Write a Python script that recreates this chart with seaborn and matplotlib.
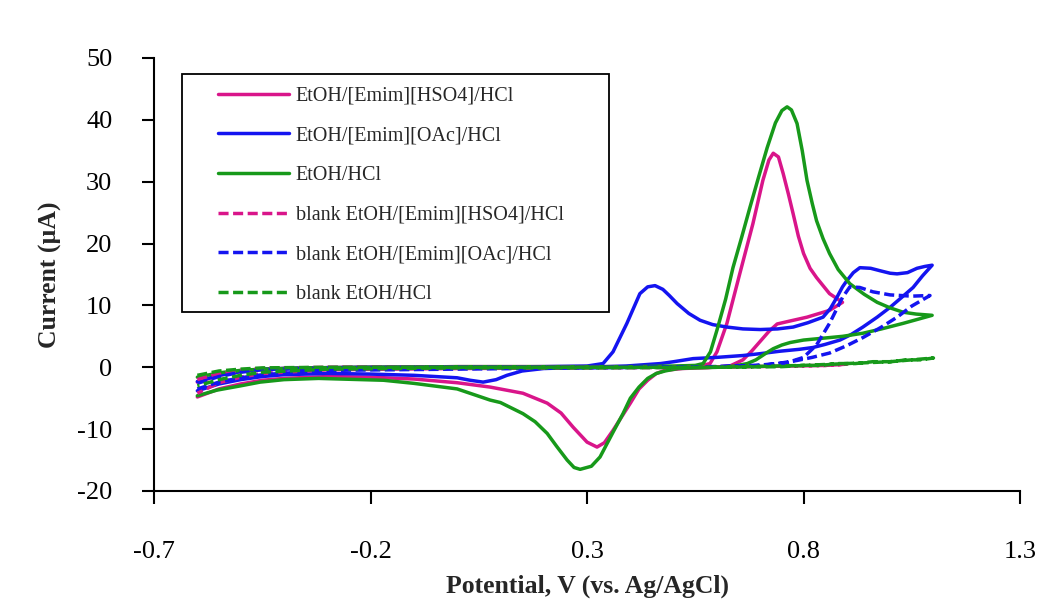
import numpy as np
import pandas as pd
import matplotlib
matplotlib.use("Agg")
import matplotlib.pyplot as plt
import seaborn as sns
from matplotlib.patches import Rectangle

# ---------------- data ----------------
# Potential (V vs Ag/AgCl) and current (uA); each loop = forward scan then reverse scan
HSO4_V = [-0.60, -0.55, -0.50, -0.45, -0.35, -0.20, 0.00, 0.20, 0.40, 0.50, 0.56, 0.584, 0.60, 0.623,
          0.653, 0.683, 0.706, 0.72, 0.73, 0.742, 0.753, 0.765, 0.776, 0.788, 0.80, 0.815, 0.83, 0.86, 0.89,
          0.86, 0.808, 0.77, 0.739, 0.72, 0.70, 0.68, 0.66, 0.63, 0.58, 0.52, 0.48, 0.46, 0.44, 0.42, 0.40,
          0.38, 0.36, 0.34, 0.323, 0.30, 0.268, 0.24, 0.208, 0.152, 0.076, 0.00, -0.10, -0.20, -0.30, -0.40,
          -0.45, -0.50, -0.55, -0.60]
HSO4_I = [-2.4, -1.3, -0.7, -0.3, -0.1, 0.0, 0.1, 0.1, 0.1, 0.1, 0.2, 0.6, 2.5, 7.1,
          15.2, 23.2, 30.2, 33.5, 34.6, 34.0, 31.3, 28.0, 24.8, 21.2, 18.4, 16.0, 14.5, 11.9, 10.5,
          9.2, 8.1, 7.5, 7.0, 5.8, 4.2, 2.6, 1.2, 0.2, -0.05, -0.2, -0.5, -1.0, -2.1, -3.5, -5.8,
          -8.0, -10.2, -12.2, -12.9, -12.1, -9.7, -7.4, -5.8, -4.2, -3.2, -2.5, -1.9, -1.6, -1.5, -1.8,
          -2.1, -2.7, -3.5, -4.8]

OAC_V = [-0.60, -0.55, -0.50, -0.45, -0.35, -0.20, 0.00, 0.20, 0.30, 0.337, 0.36, 0.392, 0.422, 0.44,
         0.457, 0.475, 0.49, 0.508, 0.535, 0.561, 0.59, 0.623, 0.66, 0.70, 0.74, 0.776, 0.81, 0.845,
         0.862, 0.877, 0.89, 0.90, 0.915, 0.93, 0.955, 0.977, 1.00, 1.016, 1.04, 1.062, 1.08, 1.097,
         1.075, 1.053, 1.025, 1.00, 0.97, 0.937, 0.91, 0.884, 0.85, 0.822, 0.79, 0.746, 0.70, 0.66,
         0.60, 0.545, 0.50, 0.47, 0.43, 0.39, 0.30, 0.20, 0.15, 0.115, 0.09, 0.06, 0.03, 0.00, -0.10,
         -0.20, -0.30, -0.40, -0.45, -0.50, -0.55, -0.60]
OAC_I = [-2.3, -1.3, -0.7, -0.3, -0.1, 0.0, 0.0, 0.1, 0.2, 0.6, 2.5, 7.1, 11.9, 13.0,
         13.2, 12.6, 11.6, 10.3, 8.7, 7.6, 6.9, 6.5, 6.2, 6.1, 6.2, 6.5, 7.2, 8.1,
         9.5, 11.3, 13.0, 14.0, 15.3, 16.1, 16.0, 15.6, 15.2, 15.1, 15.3, 16.0, 16.3, 16.5,
         14.8, 12.9, 11.2, 9.7, 8.1, 6.5, 5.3, 4.4, 3.7, 3.2, 2.9, 2.6, 2.2, 1.9,
         1.6, 1.4, 0.9, 0.6, 0.4, 0.2, 0.0, -0.2, -0.6, -1.3, -2.0, -2.4, -2.1, -1.7, -1.3,
         -1.1, -1.0, -1.2, -1.5, -2.0, -2.7, -3.8]

HCL_V = [-0.60, -0.55, -0.50, -0.45, -0.35, -0.20, 0.00, 0.20, 0.40, 0.50, 0.55, 0.568, 0.585, 0.60,
         0.62, 0.637, 0.657, 0.676, 0.696, 0.716, 0.735, 0.75, 0.762, 0.772, 0.785, 0.797, 0.808, 0.82,
         0.83, 0.845, 0.86, 0.88, 0.907, 0.94, 0.97, 1.00, 1.03, 1.06, 1.097,
         1.03, 0.98, 0.937, 0.89, 0.845, 0.80, 0.769, 0.75, 0.73, 0.716, 0.69, 0.67, 0.64, 0.60, 0.55,
         0.51, 0.48, 0.46, 0.44, 0.42, 0.40, 0.383, 0.36, 0.33, 0.31, 0.284, 0.27, 0.254, 0.23, 0.208,
         0.18, 0.152, 0.10, 0.076, 0.00, -0.10, -0.17, -0.27, -0.32, -0.40, -0.455, -0.50, -0.555, -0.60]
HCL_I = [-1.6, -0.9, -0.5, -0.3, -0.1, 0.0, 0.1, 0.1, 0.1, 0.2, 0.3, 0.6, 2.5, 6.0,
         11.0, 16.1, 21.0, 25.8, 30.7, 35.5, 39.5, 41.5, 42.1, 41.6, 39.4, 35.0, 30.2, 26.5,
         23.7, 20.8, 18.4, 15.8, 13.5, 11.8, 10.5, 9.6, 8.9, 8.6, 8.4,
         7.1, 6.2, 5.5, 5.0, 4.7, 4.4, 4.0, 3.6, 3.0, 2.4, 1.2, 0.6, 0.2, 0.0, -0.1,
         -0.2, -0.6, -1.0, -1.8, -3.2, -5.0, -7.5, -10.5, -14.5, -16.0, -16.5, -16.2, -15.0, -12.8, -10.7,
         -8.8, -7.5, -5.7, -5.3, -3.5, -2.6, -2.1, -1.9, -1.8, -2.0, -2.4, -3.0, -3.7, -4.6]

BLANK_HSO4_V = [-0.60, -0.55, -0.50, -0.45, -0.30, 0.00, 0.30, 0.60, 0.75, 0.85, 0.90,
                0.85, 0.60, 0.30, 0.00, -0.30, -0.45, -0.50, -0.55, -0.60]
BLANK_HSO4_I = [-2.0, -1.0, -0.5, -0.2, 0.0, 0.0, 0.0, 0.1, 0.2, 0.3, 0.5,
                0.3, 0.0, -0.1, -0.2, -0.4, -1.0, -1.6, -2.5, -4.2]

BLANK_OAC_V = [-0.60, -0.55, -0.50, -0.45, -0.30, 0.00, 0.30, 0.60, 0.70, 0.76, 0.80, 0.83, 0.86, 0.89,
               0.907, 0.93, 0.96, 1.00, 1.05, 1.092, 1.05, 1.016, 0.98, 0.937, 0.90, 0.86, 0.82, 0.785,
               0.74, 0.69, 0.60, 0.30, 0.00, -0.30, -0.45, -0.50, -0.55, -0.60]
BLANK_OAC_I = [-2.6, -1.5, -0.8, -0.4, -0.1, 0.0, 0.0, 0.1, 0.3, 0.7, 1.6, 3.6, 7.1, 11.3,
               13.0, 12.9, 12.2, 11.7, 11.5, 11.6, 9.9, 8.1, 6.5, 4.8, 3.5, 2.3, 1.6, 1.1,
               0.6, 0.3, 0.1, -0.1, -0.3, -0.5, -1.2, -1.7, -2.4, -3.5]

BLANK_HCL_V = [-0.60, -0.55, -0.50, -0.45, -0.30, 0.00, 0.30, 0.60, 0.75, 0.80, 0.84, 0.88, 0.92, 0.96,
               1.00, 1.04, 1.07, 1.10, 1.00, 0.90, 0.80, 0.60, 0.30, 0.00, -0.30, -0.45, -0.50, -0.55, -0.60]
BLANK_HCL_I = [-1.3, -0.6, -0.3, -0.1, 0.0, 0.0, 0.0, 0.0, 0.1, 0.3, 0.3, 0.6, 0.6, 0.9,
               0.9, 1.2, 1.2, 1.5, 0.9, 0.6, 0.3, 0.0, -0.1, -0.1, -0.3, -0.8, -1.3, -2.0, -3.0]

LABELS = ["EtOH/[Emim][HSO4]/HCl", "EtOH/[Emim][OAc]/HCl", "EtOH/HCl",
          "blank EtOH/[Emim][HSO4]/HCl", "blank EtOH/[Emim][OAc]/HCl", "blank EtOH/HCl"]
X_TICKS = [-0.7, -0.2, 0.3, 0.8, 1.3]
X_TICK_LABELS = ["-0.7", "-0.2", "0.3", "0.8", "1.3"]
Y_TICKS = [-20, -10, 0, 10, 20, 30, 40, 50]
Y_TICK_LABELS = ["-20", "-10", "0", "10", "20", "30", "40", "50"]

# ---------------- style ----------------
MAGENTA = "#D9158A"
BLUE = "#1414F0"
GREEN = "#17991A"
DASH = (0, (2.9, 1.3))

series = [
    (LABELS[0], HSO4_V, HSO4_I, MAGENTA, "-"),
    (LABELS[1], OAC_V, OAC_I, BLUE, "-"),
    (LABELS[2], HCL_V, HCL_I, GREEN, "-"),
    (LABELS[3], BLANK_HSO4_V, BLANK_HSO4_I, MAGENTA, DASH),
    (LABELS[4], BLANK_OAC_V, BLANK_OAC_I, BLUE, DASH),
    (LABELS[5], BLANK_HCL_V, BLANK_HCL_I, GREEN, DASH),
]

sns.set_theme(style="ticks")
plt.rcParams["font.family"] = ["Liberation Serif", "DejaVu Serif"]
plt.rcParams["axes.unicode_minus"] = False

fig = plt.figure(figsize=(10.43, 6.02), dpi=100)
fig.patch.set_facecolor("white")
ax = fig.add_axes([0.1477, 0.1844, 0.8303, 0.7193])

for label, v, cur, color, ls in series:
    df = pd.DataFrame({"Potential": v, "Current": cur})
    sns.lineplot(data=df, x="Potential", y="Current", sort=False, estimator=None,
                 color=color, linestyle=ls, linewidth=2.5, ax=ax, label=label,
                 solid_joinstyle="round", solid_capstyle="round")

ax.set_xlim(-0.7, 1.3)
ax.set_ylim(-20, 50)
ax.set_xticks(X_TICKS)
ax.set_xticklabels(X_TICK_LABELS)
ax.set_yticks(Y_TICKS)
ax.set_yticklabels(Y_TICK_LABELS)
sns.despine(ax=ax)
for s in ["left", "bottom"]:
    ax.spines[s].set_linewidth(1.5)
    ax.spines[s].set_color("black")
ax.tick_params(axis="both", direction="out", length=9, width=1.5, colors="black",
               labelsize=19)
ax.tick_params(axis="y", pad=21)
ax.tick_params(axis="x", pad=27)

ax.set_xlabel("Potential, V (vs. Ag/AgCl)", fontsize=18.5, fontweight="bold", labelpad=8)
ax.set_ylabel("Current (µA)", fontsize=18.5, fontweight="bold", labelpad=11)

handles, labs = ax.get_legend_handles_labels()
leg = ax.legend(handles, labs, loc="upper left", bbox_to_anchor=(0.0739, 0.934),
                bbox_transform=ax.transAxes, frameon=False, fontsize=14.5,
                handlelength=3.5, handletextpad=0.35, labelspacing=1.02,
                borderpad=0, borderaxespad=0)
ax.add_patch(Rectangle((0.0323, 0.4134), 0.4931, 0.5496, transform=ax.transAxes,
                       fill=False, edgecolor="black", linewidth=1.3, clip_on=False, zorder=5))

fig.savefig("out.png", dpi=100, facecolor="white")
